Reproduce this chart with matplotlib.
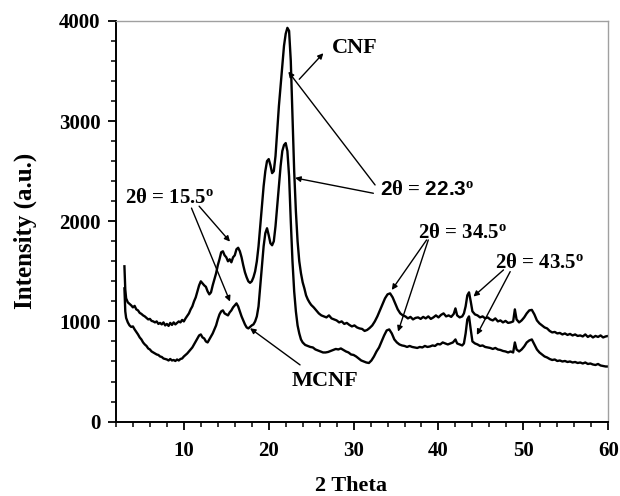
import numpy as np
import matplotlib.pyplot as plt
from matplotlib.ticker import MultipleLocator

plt.rcParams['font.family'] = ['Liberation Serif', 'DejaVu Serif']
plt.rcParams['font.weight'] = 'bold'
plt.rcParams['mathtext.fontset'] = 'custom'
plt.rcParams['mathtext.rm'] = 'Liberation Serif:bold'
plt.rcParams['mathtext.it'] = 'Liberation Serif:bold'
plt.rcParams['mathtext.bf'] = 'Liberation Serif:bold'
plt.rcParams['mathtext.sf'] = 'Liberation Sans:bold'

# XRD pattern, CNF (upper trace)
cnf_2theta = [
    3.0, 3.1, 3.2, 3.4, 3.6, 3.8, 4.0, 4.2, 4.4, 4.6, 4.8, 5.0, 5.2, 5.4, 5.6, 5.8,
    6.0, 6.2, 6.4, 6.6, 6.8, 7.0, 7.2, 7.4, 7.6, 7.8, 8.0, 8.2, 8.4, 8.6, 8.8, 9.0,
    9.2, 9.4, 9.6, 9.8, 10.0, 10.2, 10.4, 10.6, 10.8, 11.0, 11.2, 11.4, 11.6, 11.8,
    12.0, 12.2, 12.4, 12.6, 12.8, 13.0, 13.2, 13.4, 13.6, 13.8, 14.0, 14.2, 14.4,
    14.6, 14.8, 15.0, 15.2, 15.4, 15.6, 15.8, 16.0, 16.2, 16.4, 16.6, 16.8, 17.0,
    17.2, 17.4, 17.6, 17.8, 18.0, 18.2, 18.4, 18.6, 18.8, 19.0, 19.2, 19.4, 19.6,
    19.8, 20.0, 20.2, 20.4, 20.6, 20.8, 21.0, 21.2, 21.4, 21.6, 21.8, 22.0, 22.2,
    22.4, 22.6, 22.8, 23.0, 23.2, 23.4, 23.6, 23.8, 24.0, 24.2, 24.4, 24.6, 24.8,
    25.0, 25.3, 25.6, 25.9, 26.2, 26.5, 26.8, 27.1, 27.4, 27.7, 28.0, 28.3, 28.6,
    28.9, 29.2, 29.5, 29.8, 30.1, 30.4, 30.7, 31.0, 31.3, 31.6, 31.9, 32.2, 32.5,
    32.8, 33.1, 33.4, 33.7, 34.0, 34.3, 34.6, 34.9, 35.2, 35.5, 35.8, 36.1, 36.4,
    36.7, 37.0, 37.3, 37.6, 37.9, 38.2, 38.5, 38.8, 39.1, 39.4, 39.7, 40.0, 40.3,
    40.6, 40.9, 41.2, 41.5, 41.8, 42.0, 42.2, 42.5, 42.8, 43.0, 43.2, 43.4, 43.6,
    43.8, 44.0, 44.3, 44.6, 44.9, 45.2, 45.5, 45.8, 46.1, 46.4, 46.7, 47.0, 47.3,
    47.6, 47.9, 48.2, 48.5, 48.8, 49.0, 49.2, 49.5, 49.8, 50.1, 50.4, 50.7, 51.0,
    51.3, 51.6, 51.9, 52.2, 52.5, 52.8, 53.1, 53.4, 53.7, 54.0, 54.3, 54.6, 54.9,
    55.2, 55.5, 55.8, 56.1, 56.4, 56.7, 57.0, 57.3, 57.6, 57.9, 58.2, 58.5, 58.8,
    59.1, 59.4, 59.7, 60.0,
]
cnf_intensity = [
    1550, 1320, 1230, 1190, 1175, 1160, 1140, 1155, 1120, 1110, 1085, 1075, 1060, 1050, 1035, 1020,
    1025, 1005, 1000, 990, 1000, 975, 985, 970, 990, 960, 975, 955, 985, 965, 990, 970,
    985, 1000, 990, 1015, 1000, 1030, 1055, 1080, 1120, 1150, 1200, 1240, 1300, 1360,
    1400, 1380, 1360, 1345, 1300, 1270, 1290, 1360, 1420, 1480, 1560, 1620, 1690,
    1700, 1660, 1640, 1600, 1620, 1590, 1640, 1660, 1720, 1735, 1700, 1640, 1560,
    1490, 1440, 1400, 1385, 1400, 1440, 1500, 1600, 1750, 1950, 2150, 2350, 2500,
    2600, 2620, 2560, 2480, 2500, 2650, 2900, 3150, 3350, 3550, 3750, 3870, 3930,
    3900, 3600, 3050, 2500, 2100, 1800, 1600, 1480, 1390, 1330, 1260, 1220, 1190,
    1165, 1140, 1110, 1080, 1060, 1050, 1040, 1060, 1030, 1020, 1010, 990, 1000,
    975, 985, 965, 950, 960, 940, 930, 925, 905, 915, 935, 960, 1000,
    1050, 1110, 1170, 1230, 1270, 1280, 1240, 1180, 1120, 1080, 1060, 1050, 1030,
    1045, 1020, 1035, 1040, 1025, 1045, 1030, 1050, 1025, 1040, 1060, 1040, 1065,
    1080, 1050, 1060, 1045, 1075, 1130, 1060, 1040, 1050, 1080, 1150, 1260, 1290,
    1200, 1100, 1070, 1060, 1040, 1050, 1030, 1040, 1020, 1010, 1030, 1000, 1010,
    990, 1005, 985, 990, 1000, 1120, 1020, 990, 1010, 1040, 1080, 1110, 1115,
    1070, 1010, 980, 960, 940, 930, 905, 890, 895, 880, 885, 870, 880,
    865, 875, 860, 870, 855, 860, 850, 870, 845, 860, 840, 855, 845,
    860, 840, 850, 855,
]

# XRD pattern, MCNF (lower trace)
mcnf_2theta = [
    3.0, 3.1, 3.2, 3.4, 3.6, 3.8, 4.0, 4.2, 4.4, 4.6, 4.8, 5.0, 5.2, 5.4, 5.6, 5.8,
    6.0, 6.2, 6.4, 6.6, 6.8, 7.0, 7.2, 7.4, 7.6, 7.8, 8.0, 8.2, 8.4, 8.6, 8.8, 9.0,
    9.2, 9.4, 9.6, 9.8, 10.0, 10.2, 10.4, 10.6, 10.8, 11.0, 11.2, 11.4, 11.6, 11.8,
    12.0, 12.2, 12.4, 12.6, 12.8, 13.0, 13.2, 13.4, 13.6, 13.8, 14.0, 14.2, 14.4,
    14.6, 14.8, 15.0, 15.2, 15.4, 15.6, 15.8, 16.0, 16.2, 16.4, 16.6, 16.8, 17.0,
    17.2, 17.4, 17.6, 17.8, 18.0, 18.2, 18.4, 18.6, 18.8, 19.0, 19.2, 19.4, 19.6,
    19.8, 20.0, 20.2, 20.4, 20.6, 20.8, 21.0, 21.2, 21.4, 21.6, 21.8, 22.0, 22.2,
    22.4, 22.6, 22.8, 23.0, 23.2, 23.4, 23.6, 23.8, 24.0, 24.3, 24.6, 24.9, 25.2,
    25.5, 25.8, 26.1, 26.4, 26.7, 27.0, 27.3, 27.6, 27.9, 28.2, 28.5, 28.8, 29.1,
    29.4, 29.7, 30.0, 30.3, 30.6, 30.9, 31.2, 31.5, 31.8, 32.1, 32.4, 32.7, 33.0,
    33.3, 33.6, 33.9, 34.2, 34.5, 34.8, 35.1, 35.4, 35.7, 36.0, 36.3, 36.6, 36.9,
    37.2, 37.5, 37.8, 38.1, 38.4, 38.7, 39.0, 39.3, 39.6, 39.9, 40.2, 40.5, 40.8,
    41.1, 41.4, 41.7, 42.0, 42.2, 42.5, 42.8, 43.0, 43.2, 43.4, 43.6, 43.8, 44.0,
    44.3, 44.6, 44.9, 45.2, 45.5, 45.8, 46.1, 46.4, 46.7, 47.0, 47.3, 47.6, 47.9,
    48.2, 48.5, 48.8, 49.0, 49.2, 49.5, 49.8, 50.1, 50.4, 50.7, 51.0, 51.3, 51.6,
    51.9, 52.2, 52.5, 52.8, 53.1, 53.4, 53.7, 54.0, 54.3, 54.6, 54.9, 55.2, 55.5,
    55.8, 56.1, 56.4, 56.7, 57.0, 57.3, 57.6, 57.9, 58.2, 58.5, 58.8, 59.1, 59.4,
    59.7, 60.0,
]
mcnf_intensity = [
    1330, 1100, 1035, 990, 960, 945, 950, 920, 895, 870, 840, 820, 790, 770, 755, 730,
    720, 700, 690, 680, 670, 665, 650, 645, 630, 625, 620, 610, 625, 610, 615, 605,
    620, 610, 625, 630, 650, 665, 680, 700, 720, 740, 770, 800, 830, 860,
    870, 840, 830, 800, 790, 820, 850, 880, 920, 960, 1020, 1070, 1100,
    1110, 1080, 1070, 1060, 1090, 1110, 1140, 1160, 1180, 1150, 1100, 1050, 1010,
    970, 940, 930, 945, 960, 970, 1000, 1050, 1150, 1350, 1550, 1750, 1880,
    1930, 1860, 1780, 1760, 1800, 1950, 2150, 2350, 2550, 2700, 2760, 2780, 2700,
    2450, 2000, 1600, 1300, 1100, 960, 880, 820, 790, 765, 755, 745, 740,
    720, 710, 700, 690, 690, 695, 705, 715, 725, 720, 730, 715, 700,
    690, 670, 665, 650, 630, 610, 600, 590, 585, 610, 650, 700, 740,
    800, 860, 910, 920, 880, 820, 790, 770, 760, 755, 745, 755, 745,
    740, 735, 745, 740, 755, 745, 750, 760, 755, 775, 770, 790, 780,
    770, 780, 790, 820, 780, 770, 760, 780, 880, 1020, 1050, 920, 800,
    780, 770, 755, 760, 745, 740, 735, 725, 735, 720, 715, 705, 700,
    690, 700, 690, 790, 720, 700, 720, 750, 790, 810, 820, 770, 720,
    690, 670, 650, 640, 625, 615, 620, 605, 610, 600, 605, 595, 600,
    590, 595, 585, 590, 580, 590, 575, 580, 570, 565, 575, 560, 555,
    550, 550,
]

fig = plt.figure(figsize=(6.2, 4.96), dpi=100)
ax = fig.add_axes([0.187, 0.150, 0.794, 0.808])

ax.plot(cnf_2theta, cnf_intensity, color='black', lw=1.7)
ax.plot(mcnf_2theta, mcnf_intensity, color='black', lw=1.7)

ax.set_xlim(2, 60)
ax.set_ylim(0, 4000)
ax.xaxis.set_major_locator(MultipleLocator(10))
ax.xaxis.set_minor_locator(MultipleLocator(2))
ax.yaxis.set_major_locator(MultipleLocator(1000))
ax.yaxis.set_minor_locator(MultipleLocator(200))
ax.tick_params(which='major', direction='out', length=6, width=1.3,
               labelsize=15, pad=5)
ax.tick_params(which='minor', direction='out', length=3.5, width=1.1)
ax.tick_params(axis='x', which='major', pad=8)
for lab in ax.get_xticklabels() + ax.get_yticklabels():
    lab.set_fontweight('bold')

for side in ['left', 'bottom']:
    ax.spines[side].set_linewidth(1.4)
for side in ['top', 'right']:
    ax.spines[side].set_color('#a0a0a0')
    ax.spines[side].set_linewidth(1.0)

fig.text(0.040, 0.535, 'Intensity (a.u.)', rotation=90, fontsize=18,
         fontweight='bold', ha='center', va='center')
fig.text(0.566, 0.020, '2 Theta', fontsize=16, fontweight='bold',
         ha='center', va='center')

arrow = dict(arrowstyle='-|>', color='black', lw=1.0, mutation_scale=8,
             shrinkA=0, shrinkB=0)

# peak labels
ax.text(3.06, 2186, r'2θ = 15.5$^{\rm o}$', fontsize=15, fontweight='bold')
ax.annotate('', xy=(15.44, 1198), xytext=(10.9, 2131), arrowprops=arrow)
ax.annotate('', xy=(15.44, 1796), xytext=(11.8, 2150), arrowprops=arrow)

ax.text(27.43, 3680, 'CNF', fontsize=16, fontweight='bold')
ax.annotate('', xy=(26.44, 3677), xytext=(23.6, 3417), arrowprops=arrow)

ax.text(33.12, 2262, r'$\mathsf{2}$θ = $\mathsf{22.3}^{\rm o}$', fontsize=15,
        fontweight='bold')
ax.annotate('', xy=(22.31, 3493), xytext=(32.53, 2362), arrowprops=arrow)
ax.annotate('', xy=(23.1, 2432), xytext=(32.33, 2279), arrowprops=arrow)

ax.text(22.7, 356, 'MCNF', fontsize=16, fontweight='bold')
ax.annotate('', xy=(17.8, 932), xytext=(23.69, 566), arrowprops=arrow)

ax.text(37.63, 1830, r'2θ = 34.5$^{\rm o}$', fontsize=15, fontweight='bold')
ax.annotate('', xy=(34.5, 1314), xytext=(38.6, 1813), arrowprops=arrow)
ax.annotate('', xy=(35.24, 898), xytext=(38.8, 1813), arrowprops=arrow)

ax.text(46.68, 1531, r'2θ = 43.5$^{\rm o}$', fontsize=15, fontweight='bold')
ax.annotate('', xy=(44.12, 1248), xytext=(47.66, 1514), arrowprops=arrow)
ax.annotate('', xy=(44.52, 865), xytext=(48.45, 1497), arrowprops=arrow)

fig.savefig('out.png', dpi=100)
